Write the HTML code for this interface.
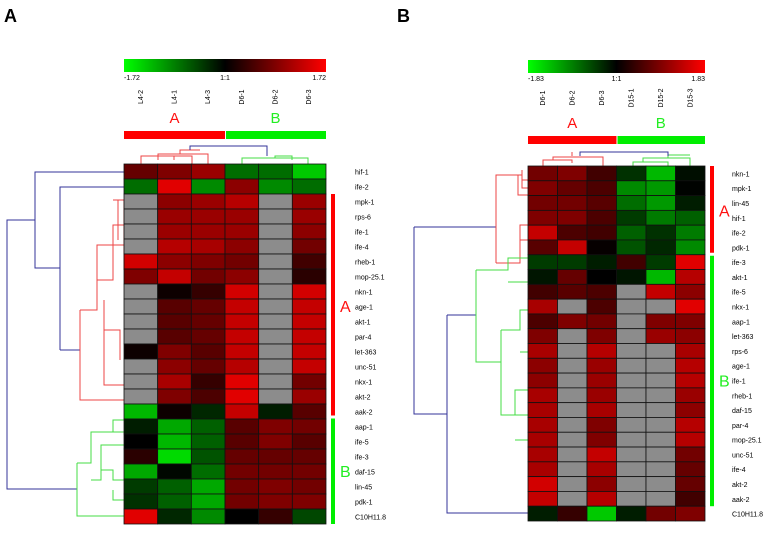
<!DOCTYPE html>
<html><head><meta charset="utf-8">
<style>
body{margin:0;background:#fff;width:773px;height:535px;overflow:hidden;font-family:"Liberation Sans",sans-serif}
svg{display:block}
</style></head>
<body>
<svg id="chart" width="773" height="535" xmlns="http://www.w3.org/2000/svg">
<defs>
<linearGradient id="cb" x1="0" x2="1"><stop offset="0" stop-color="#00ff00"/><stop offset="0.5" stop-color="#000"/><stop offset="1" stop-color="#ff0000"/></linearGradient>
</defs>
<text x="4" y="22" font-size="18" font-weight="bold">A</text>
<text x="397" y="22" font-size="18" font-weight="bold">B</text>
<g id="dendro" fill="none" stroke-width="1"></g>
<g id="panels"></g>
</svg>
<script>
const colsA=["L4-2","L4-1","L4-3","D6-1","D6-2","D6-3"];
const rowsA=["hif-1","ife-2","mpk-1","rps-6","ife-1","ife-4","rheb-1","mop-25.1","nkn-1","age-1","akt-1","par-4","let-363","unc-51","nkx-1","akt-2","aak-2","aap-1","ife-5","ife-3","daf-15","lin-45","pdk-1","C10H11.8"];
const valsA=[
[0.5,0.6,0.7,-0.6,-0.6,-0.9],[-0.6,0.95,-0.7,0.65,-0.7,-0.6],[null,0.65,0.7,0.8,null,0.7],[null,0.7,0.7,0.7,null,0.7],
[null,0.7,0.7,0.7,null,0.65],[null,0.8,0.75,0.65,null,0.55],[0.9,0.65,0.6,0.55,null,0.35],[0.6,0.85,0.55,0.65,null,0.25],
[null,0.1,0.3,0.9,null,0.9],[null,0.45,0.5,0.85,null,0.85],[null,0.45,0.5,0.85,null,0.85],[null,0.45,0.5,0.85,null,0.85],
[0.1,0.6,0.45,0.85,null,0.85],[null,0.65,0.5,0.8,null,0.85],[null,0.75,0.3,0.95,null,0.55],[null,0.6,0.4,0.95,null,0.7],
[-0.85,0.1,-0.3,0.85,-0.25,0.45],[-0.25,-0.8,-0.55,0.45,0.6,0.55],[0,-0.85,-0.55,0.45,0.6,0.45],[0.25,-0.95,-0.5,0.5,0.5,0.5],
[-0.8,-0.1,-0.6,0.55,0.55,0.55],[-0.4,-0.55,-0.8,0.55,0.6,0.55],[-0.35,-0.55,-0.8,0.55,0.6,0.6],[0.95,-0.3,-0.7,0,0.3,-0.45]];
const colsB=["D6-1","D6-2","D6-3","D15-1","D15-2","D15-3"];
const rowsB=["nkn-1","mpk-1","lin-45","hif-1","ife-2","pdk-1","ife-3","akt-1","ife-5","nkx-1","aap-1","let-363","rps-6","age-1","ife-1","rheb-1","daf-15","par-4","mop-25.1","unc-51","ife-4","akt-2","aak-2","C10H11.8"];
const valsB=[
[0.55,0.6,0.35,-0.35,-0.85,-0.15],[0.6,0.5,0.4,-0.7,-0.75,-0.05],[0.55,0.55,0.45,-0.6,-0.75,-0.25],[0.6,0.6,0.4,-0.4,-0.65,-0.55],
[0.85,0.4,0.35,-0.55,-0.35,-0.65],[0.45,0.85,0.05,-0.5,-0.3,-0.7],[-0.4,-0.4,-0.25,0.35,-0.4,0.95],[-0.2,0.5,0,-0.2,-0.85,0.8],
[0.35,0.45,0.4,null,0.85,0.65],[0.75,null,0.4,null,null,0.95],[0.4,0.6,0.55,null,0.6,0.6],[0.6,null,0.6,null,0.7,0.65],
[0.75,null,0.8,null,null,0.75],[0.65,null,0.7,null,null,0.8],[0.65,null,0.7,null,null,0.8],[0.75,null,0.7,null,null,0.7],
[0.75,null,0.75,null,null,0.65],[0.75,null,0.6,null,null,0.8],[0.75,null,0.6,null,null,0.8],[0.75,null,0.85,null,null,0.55],
[0.75,null,0.75,null,null,0.5],[0.9,null,0.65,null,null,0.5],[0.85,null,0.8,null,null,0.35],[-0.25,0.3,-0.9,-0.25,0.55,0.6]];
const rangeA=["-1.72","1:1","1.72"], rangeB=["-1.83","1:1","1.83"];

const NS="http://www.w3.org/2000/svg";
const svg=document.getElementById('chart');
function el(tag,attrs,parent){const e=document.createElementNS(NS,tag);for(const k in attrs)e.setAttribute(k,attrs[k]);(parent||svg).appendChild(e);return e;}
function color(v){
  if(v===null)return '#8c8c8c';
  const a=Math.min(1,Math.abs(v));
  if(v>=0){const c=Math.round(240*Math.pow(a,1.25));return `rgb(${c},0,0)`;}
  const c=Math.round(235*Math.pow(a,1.5));return `rgb(0,${c},0)`;
}

function panel(cfg){
  const g=el('g',{});
  
  
  const {x0,x1,y0,y1,cols,rows,vals,range,split,labelX}=cfg;
  const cw=(x1-x0)/cols.length, rh=(y1-y0)/rows.length;
  const xs=i=>x0+i*cw, ys=j=>y0+j*rh;
  const cb=el('rect',{x:x0,y:cfg.cbY,width:x1-x0,height:13,fill:'url(#cb)'},g);
  
  
  [[x0,'start'],[(x0+x1)/2,'middle'],[x1,'end']].forEach((p,i)=>{
    const t=el('text',{x:p[0],y:cfg.cbY+21,'font-size':7,'text-anchor':p[1]},g);t.textContent=range[i];
    
    
  });
  cols.forEach((c,i)=>{
    const cx=xs(i)+cw/2, t=el('text',{x:0,y:0,'font-size':7,'text-anchor':'middle',transform:`translate(${cx+2},${cfg.cbY+38}) rotate(-90)`},g);
    t.textContent=c;
    
    
  });
  const mid=xs(3);
  const ga=el('text',{x:(x0+mid)/2,y:cfg.barY-8,'font-size':15,fill:'#ff1010','text-anchor':'middle'},g);ga.textContent='A';
  
  
  const gb=el('text',{x:(mid+x1)/2,y:cfg.barY-8,'font-size':15,fill:'#22ee22','text-anchor':'middle'},g);gb.textContent='B';
  
  
  const ba=el('rect',{x:x0,y:cfg.barY,width:mid-x0,height:8,fill:'#ff0000'},g);
  
  
  const bb=el('rect',{x:mid+1,y:cfg.barY,width:x1-mid-1,height:8,fill:'#00ee00'},g);
  
  
  rows.forEach((r,j)=>{
    vals[j].forEach((v,i)=>{
      const c=el('rect',{x:xs(i),y:ys(j),width:cw,height:rh,fill:color(v),stroke:'#111','stroke-width':0.8},g);
      
      
    });
    const t=el('text',{x:labelX,y:ys(j)+rh/2+3,'font-size':7},g);t.textContent=r;
    
    
  });
  const sa=el('rect',{x:cfg.sideX,y:ys(split[0]),width:4,height:ys(split[1])-ys(split[0])-2,fill:'#ff0000'},g);
  
  
  const sb=el('rect',{x:cfg.sideX,y:ys(split[1])+1,width:4,height:ys(split[2])-ys(split[1])-1,fill:'#00ee00'},g);
  
  
  const la=el('text',{x:cfg.sideX+9,y:(ys(split[0])+ys(split[1]))/2+6,'font-size':16,fill:'#ff1010'},g);la.textContent='A';
  
  
  const lb=el('text',{x:cfg.sideX+9,y:(ys(split[1])+ys(split[2]))/2+6,'font-size':16,fill:'#22ee22'},g);lb.textContent='B';
  
  
}
panel({name:'heatmap-a',x0:124,x1:326,y0:164,y1:524,cols:colsA,rows:rowsA,vals:valsA,range:rangeA,cbY:59,barY:131,split:[2,16.9,24],sideX:331,labelX:355});
panel({name:'heatmap-b',x0:528,x1:705,y0:166,y1:521,cols:colsB,rows:rowsB,vals:valsB,range:rangeB,cbY:60,barY:136,split:[0,6,23],sideX:710,labelX:732});

const d=document.getElementById('dendro');
function path(dp,col,name){const p=el('path',{d:dp,stroke:col},d);}
path('M124 172H35V268H60 M124 187H60V350 M35 220H7V489H77 M60 350H80','#333399','row-dendrogram-a-root');
path('M80 310V400H124 M80 310H97V245H124 M97 280H113V225H124 M113 200H124V270 M118 200V240 M80 400H124 M104 300V385H124 M104 330H120V360','#ee4444','row-dendrogram-a-red');
path('M77 463V516H124 M77 463H91V432H124 M91 480H101V445H124 M101 432H113V420H124 M101 470H113V480H124 M113 490V500H124','#44dd44','row-dendrogram-a-green');
path('M141 164V156H174V160 M174 156H192V164 M158 160V154H208V160 M208 160V164 M180 154V150H200','#ee4444','col-dendrogram-a');
path('M242 164V158H308V164 M275 158V156H292V160','#44dd44','col-dendrogram-a-green');
path('M190 150V146H267V156','#333399','col-dendrogram-a-top');
path('M414 227V414H447 M414 227H496 M447 315V513H528 M447 315H476','#333399','row-dendrogram-b-root');
path('M496 263V175H518V195H528 M518 175H522V180H528 M522 170V188H528 M496 263H520V225H528 M520 240H528','#ee4444','row-dendrogram-b-red');
path('M476 270V362H501 M476 270H508V258H528 M508 282H528 M501 330V415H528 M501 330H520V310H528 M520 352H528 M501 415H515V390H528 M515 440H528','#44dd44','row-dendrogram-b-green');
path('M543 166V160H572V163 M553 160V157H603V166 M572 156V152','#ee4444','col-dendrogram-b');
path('M633 166V162H668V166 M643 162V158H690V166 M668 158V155H690','#44dd44','col-dendrogram-b-green');
path('M580 156V152H668V156','#333399','col-dendrogram-b-top');
</script>
</body></html>
